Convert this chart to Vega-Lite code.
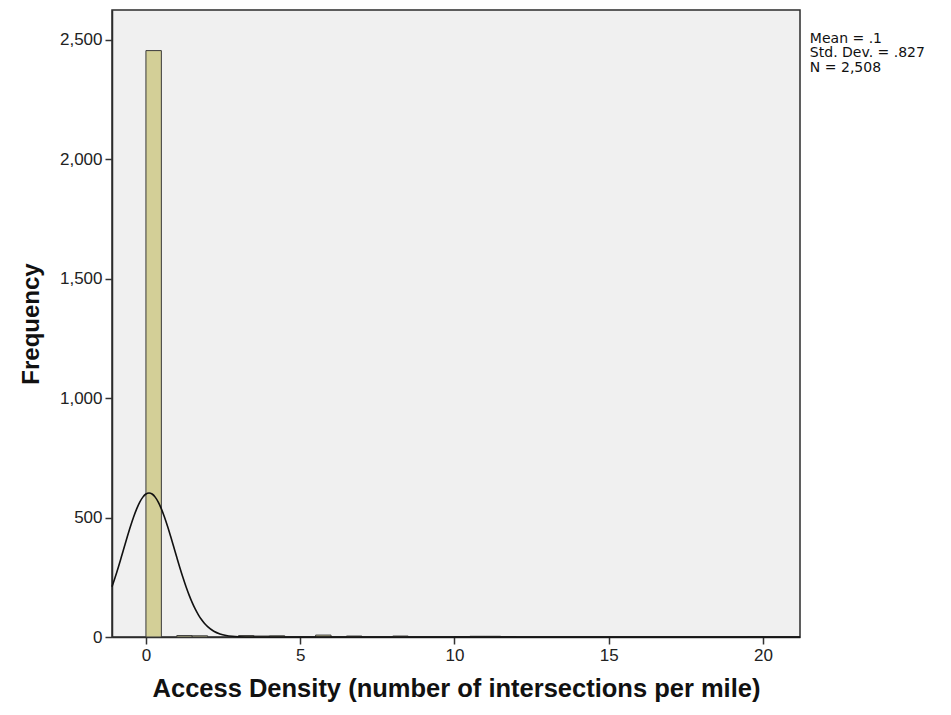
{
  "$schema": "https://vega.github.io/schema/vega-lite/v6.json",
  "width": 688,
  "height": 627,
  "autosize": "none",
  "padding": {"left": 112, "top": 10, "right": 151, "bottom": 78},
  "background": "white",
  "view": {"fill": "#F0F0F0", "stroke": "#2b2b2b", "strokeWidth": 1.5},
  "config": {
    "font": "Liberation Sans",
    "axis": {
      "grid": false,
      "labelFont": "Liberation Sans",
      "labelFontSize": 17,
      "labelColor": "#222222",
      "tickColor": "#333333",
      "tickSize": 7,
      "tickWidth": 1.5,
      "domainColor": "#2b2b2b",
      "domainWidth": 1.5,
      "titleFont": "Liberation Sans",
      "titleFontSize": 24,
      "titleFontWeight": "bold",
      "titleColor": "#111111"
    }
  },
  "datasets": {
    "bins": [
      {"start": 0.0, "end": 0.5, "count": 2455},
      {"start": 1.0, "end": 1.5, "count": 6},
      {"start": 1.5, "end": 2.0, "count": 5},
      {"start": 3.0, "end": 3.5, "count": 6},
      {"start": 3.5, "end": 4.0, "count": 4},
      {"start": 4.0, "end": 4.5, "count": 5},
      {"start": 5.5, "end": 6.0, "count": 8},
      {"start": 6.5, "end": 7.0, "count": 4},
      {"start": 8.0, "end": 8.5, "count": 4},
      {"start": 10.0, "end": 10.5, "count": 2},
      {"start": 10.5, "end": 11.0, "count": 3},
      {"start": 11.0, "end": 11.5, "count": 3},
      {"start": 11.5, "end": 12.0, "count": 2},
      {"start": 19.5, "end": 20.0, "count": 1}
    ],
    "curve": [
      {"x": -1.1, "y": 210.5},
      {"x": -1.0, "y": 249.0},
      {"x": -0.9, "y": 290.3},
      {"x": -0.8, "y": 333.6},
      {"x": -0.7, "y": 377.7},
      {"x": -0.6, "y": 421.4},
      {"x": -0.5, "y": 463.5},
      {"x": -0.4, "y": 502.3},
      {"x": -0.3, "y": 536.4},
      {"x": -0.2, "y": 564.6},
      {"x": -0.1, "y": 585.6},
      {"x": 0.0, "y": 598.6},
      {"x": 0.1, "y": 603.0},
      {"x": 0.2, "y": 598.6},
      {"x": 0.3, "y": 585.6},
      {"x": 0.4, "y": 564.6},
      {"x": 0.5, "y": 536.4},
      {"x": 0.6, "y": 502.3},
      {"x": 0.7, "y": 463.5},
      {"x": 0.8, "y": 421.4},
      {"x": 0.9, "y": 377.7},
      {"x": 1.0, "y": 333.6},
      {"x": 1.1, "y": 290.3},
      {"x": 1.2, "y": 249.0},
      {"x": 1.3, "y": 210.5},
      {"x": 1.4, "y": 175.3},
      {"x": 1.5, "y": 143.9},
      {"x": 1.6, "y": 116.4},
      {"x": 1.7, "y": 92.8},
      {"x": 1.8, "y": 72.9},
      {"x": 1.9, "y": 56.4},
      {"x": 2.0, "y": 43.1},
      {"x": 2.2, "y": 24.0},
      {"x": 2.4, "y": 12.6},
      {"x": 2.6, "y": 6.2},
      {"x": 2.8, "y": 2.9},
      {"x": 3.0, "y": 1.3},
      {"x": 3.5, "y": 0.1},
      {"x": 4.0, "y": 0.0},
      {"x": 21.2, "y": 0.0}
    ],
    "stats": [
      {"label": "Mean = .1", "x": 21.52, "y": 2504},
      {"label": "Std. Dev. = .827", "x": 21.52, "y": 2443},
      {"label": "N = 2,508", "x": 21.52, "y": 2382}
    ]
  },
  "layer": [
    {
      "data": {"name": "bins"},
      "mark": {"type": "bar", "fill": "#D3CF97", "stroke": "#3a3a3a", "strokeWidth": 1},
      "encoding": {
        "x": {
          "field": "start",
          "type": "quantitative",
          "scale": {"domain": [-1.1, 21.2], "nice": false, "zero": false},
          "axis": {"values": [0, 5, 10, 15, 20], "format": "d", "title": "Access Density (number of intersections per mile)", "titleFontSize": 25.5, "titlePadding": 13, "labelPadding": 3}
        },
        "x2": {"field": "end"},
        "y": {
          "field": "count",
          "type": "quantitative",
          "scale": {"domain": [0, 2625], "nice": false},
          "axis": {"values": [0, 500, 1000, 1500, 2000, 2500], "format": ",d", "title": "Frequency", "titlePadding": 16, "labelPadding": 3}
        },
        "y2": {"datum": 0}
      }
    },
    {
      "data": {"name": "curve"},
      "mark": {"type": "line", "color": "#111111", "strokeWidth": 1.6, "interpolate": "monotone"},
      "encoding": {
        "x": {"field": "x", "type": "quantitative"},
        "y": {"field": "y", "type": "quantitative"}
      }
    },
    {
      "data": {"name": "stats"},
      "mark": {"type": "text", "align": "left", "baseline": "middle", "fontSize": 14, "color": "#111111", "font": "DejaVu Sans"},
      "encoding": {
        "x": {"field": "x", "type": "quantitative"},
        "y": {"field": "y", "type": "quantitative"},
        "text": {"field": "label"}
      }
    }
  ]
}
